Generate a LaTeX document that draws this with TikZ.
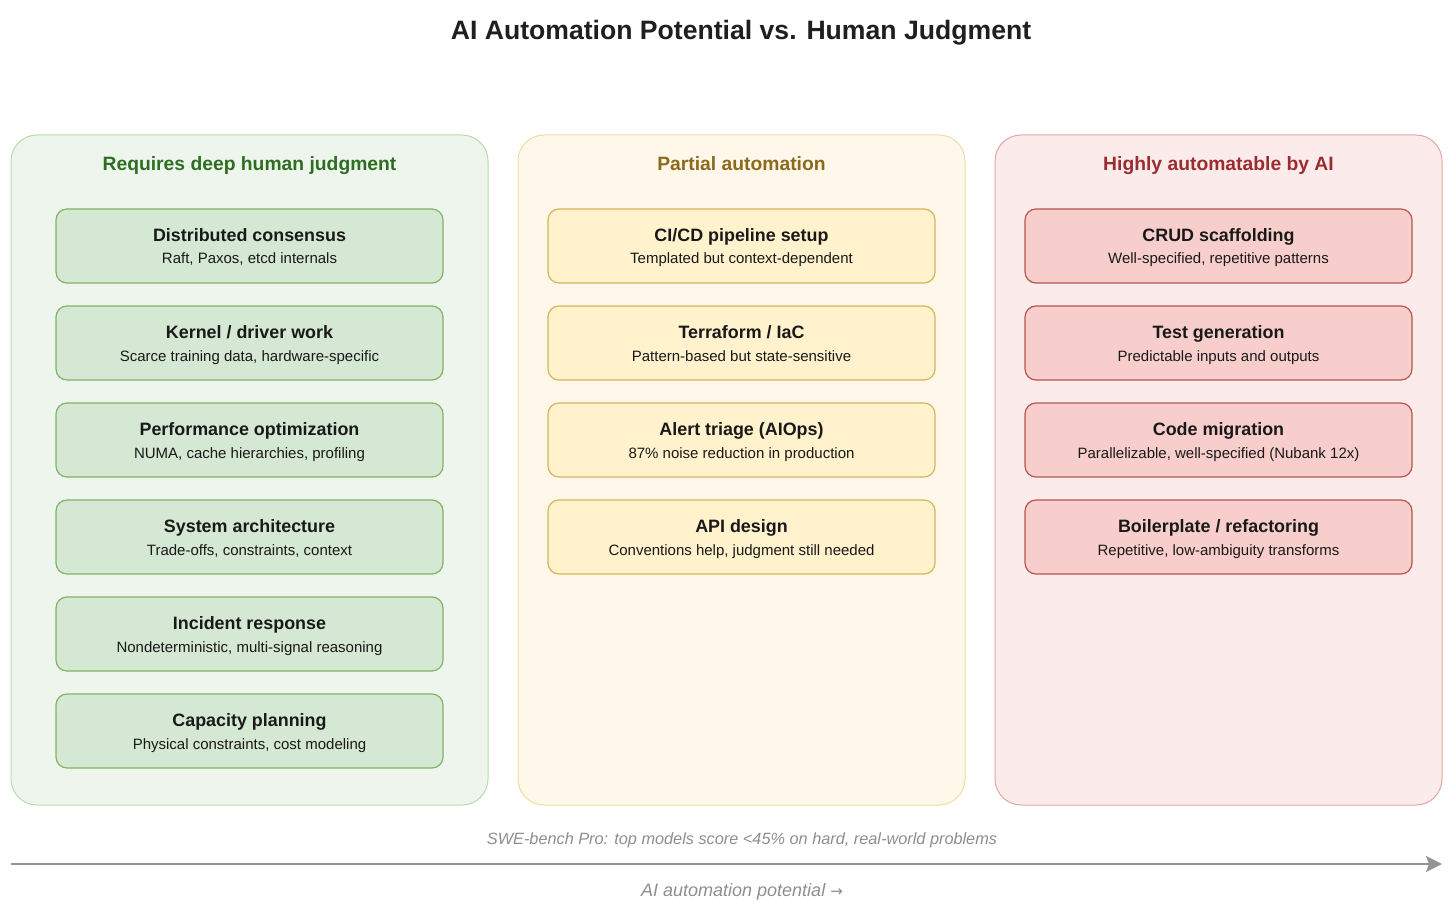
\documentclass[tikz,border=0pt]{standalone}
\usepackage{fontspec}
\setmainfont{Liberation Sans}
\newfontfamily\symfont{DejaVu Sans}
\usetikzlibrary{arrows.meta}

\definecolor{gLane}{HTML}{EEF5EC}
\definecolor{gLaneLine}{HTML}{B9DBAB}
\definecolor{gHead}{HTML}{2E6E22}
\definecolor{gCard}{HTML}{D5E8D4}
\definecolor{gCardLine}{HTML}{82B366}
\definecolor{yLane}{HTML}{FFF8EA}
\definecolor{yLaneLine}{HTML}{EFDDA4}
\definecolor{yHead}{HTML}{8C6A1C}
\definecolor{yCard}{HTML}{FFF2CC}
\definecolor{yCardLine}{HTML}{D6B656}
\definecolor{rLane}{HTML}{FCEBEB}
\definecolor{rLaneLine}{HTML}{E2A6A6}
\definecolor{rHead}{HTML}{9B2C30}
\definecolor{rCard}{HTML}{F8CECC}
\definecolor{rCardLine}{HTML}{B85450}
\definecolor{note}{HTML}{8E8E8E}

% card text: bold title over a plain line, fixed struts keep the baselines steady
\newcommand{\cardtxt}[2]{{\bfseries\fontsize{17.9}{22.3}\selectfont\rule{0pt}{17.7pt}#1}\\{#2\rule[-4pt]{0pt}{4pt}}}

\begin{document}
\begin{tikzpicture}[x=1pt,y=-1pt,
  lane/.style={draw, line width=1pt, rounded corners=26pt},
  head/.style={anchor=base, font=\bfseries\fontsize{19.3}{23}\selectfont},
  card/.style={draw, line width=1.2pt, rounded corners=11pt, minimum width=387pt,
    minimum height=74pt, inner sep=0pt, align=center, text=black!90,
    font=\fontsize{15}{22.3}\selectfont},
  gcard/.style={card, fill=gCard, draw=gCardLine},
  ycard/.style={card, fill=yCard, draw=yCardLine},
  rcard/.style={card, fill=rCard, draw=rCardLine}]
\useasboundingbox (0,0) rectangle (1456,909);

\node[anchor=base, font=\bfseries\fontsize{26.6}{30}\selectfont, text=black!88] (title) at (741,40) {AI Automation Potential vs. Human Judgment};

% lanes
\path[lane, fill=gLane, draw=gLaneLine] (11,135) rectangle (488,805);
\path[lane, fill=yLane, draw=yLaneLine] (518,135) rectangle (965,805);
\path[lane, fill=rLane, draw=rLaneLine] (995,135) rectangle (1442,805);

\node[head, text=gHead] (gh) at (249.5,170.7) {Requires deep human judgment};
\node[head, text=yHead] (yh) at (741.5,170.7) {Partial automation};
\node[head, text=rHead] (rh) at (1218.5,170.7) {Highly automatable by AI};

% human judgment
\node[gcard] (g1) at (249.5,246) {\cardtxt{Distributed consensus}{Raft, Paxos, etcd internals}};
\node[gcard] (g2) at (249.5,343) {\cardtxt{Kernel / driver work}{Scarce training data, hardware-specific}};
\node[gcard] (g3) at (249.5,440) {\cardtxt{Performance optimization}{NUMA, cache hierarchies, profiling}};
\node[gcard] (g4) at (249.5,537) {\cardtxt{System architecture}{Trade-offs, constraints, context}};
\node[gcard] (g5) at (249.5,634) {\cardtxt{Incident response}{Nondeterministic, multi-signal reasoning}};
\node[gcard] (g6) at (249.5,731) {\cardtxt{Capacity planning}{Physical constraints, cost modeling}};

% partial
\node[ycard] (y1) at (741.5,246) {\cardtxt{CI/CD pipeline setup}{Templated but context-dependent}};
\node[ycard] (y2) at (741.5,343) {\cardtxt{Terraform / IaC}{Pattern-based but state-sensitive}};
\node[ycard] (y3) at (741.5,440) {\cardtxt{Alert triage (AIOps)}{87\% noise reduction in production}};
\node[ycard] (y4) at (741.5,537) {\cardtxt{API design}{Conventions help, judgment still needed}};

% automatable
\node[rcard] (r1) at (1218.5,246) {\cardtxt{CRUD scaffolding}{Well-specified, repetitive patterns}};
\node[rcard] (r2) at (1218.5,343) {\cardtxt{Test generation}{Predictable inputs and outputs}};
\node[rcard] (r3) at (1218.5,440) {\cardtxt{Code migration}{Parallelizable, well-specified (Nubank 12x)}};
\node[rcard] (r4) at (1218.5,537) {\cardtxt{Boilerplate / refactoring}{Repetitive, low-ambiguity transforms}};

% axis
\node[anchor=base, font=\itshape\fontsize{16.3}{18}\selectfont, text=note] (bench) at (742,844.5) {SWE-bench Pro: top models score <45\% on hard, real-world problems};
\coordinate (a0) at (11,864);
\coordinate (a1) at (1442,864);
\path[draw, line width=2.2pt, color=black!42, -{Stealth[length=16pt, width=16pt, inset=3pt]}] (a0) -- (a1);
\node[anchor=base, font=\itshape\fontsize{18}{20}\selectfont, text=note] (axis) at (742,896) {AI automation potential {\symfont\fontsize{15}{18}\selectfont →}};
\end{tikzpicture}
\end{document}
